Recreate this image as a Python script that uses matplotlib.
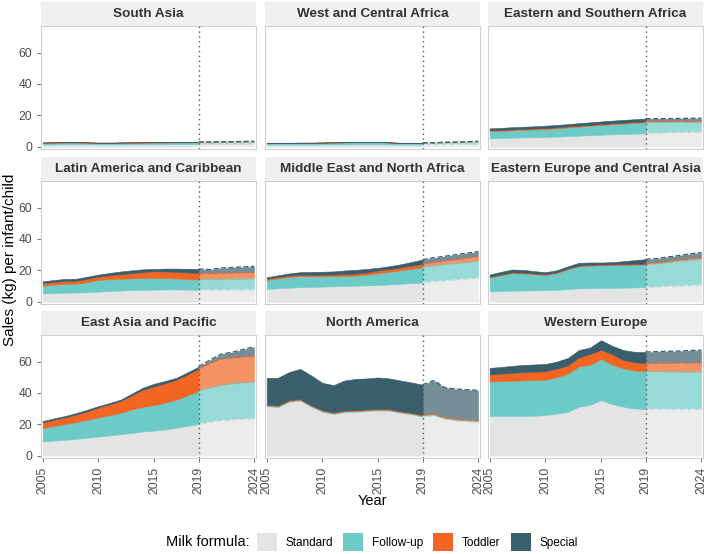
import numpy as np
import matplotlib
matplotlib.use("Agg")
import matplotlib.pyplot as plt
from matplotlib.patches import Patch

plt.rcParams['font.family'] = ['Liberation Sans', 'DejaVu Sans']

years = list(range(2005, 2025))
projection_start = 2019

regions = ["South Asia", "West and Central Africa", "Eastern and Southern Africa",
           "Latin America and Caribbean", "Middle East and North Africa", "Eastern Europe and Central Asia",
           "East Asia and Pacific", "North America", "Western Europe"]

formula_types = ["Standard", "Follow-up", "Toddler", "Special"]

# sales (kg) per infant/child, one row per region in the order above
standard = [
    [1.4, 1.4, 1.5, 1.5, 1.5, 1.4, 1.4, 1.4, 1.5, 1.5, 1.5, 1.5, 1.6, 1.6, 1.6, 1.6, 1.7, 1.7, 1.7, 1.8],
    [1.3, 1.3, 1.3, 1.3, 1.3, 1.4, 1.4, 1.4, 1.5, 1.5, 1.5, 1.4, 1.3, 1.3, 1.3, 1.3, 1.4, 1.4, 1.5, 1.6],
    [5.3, 5.5, 5.7, 5.9, 6.0, 6.2, 6.4, 6.7, 7.0, 7.3, 7.6, 7.9, 8.1, 8.3, 8.5, 8.6, 8.8, 9.0, 9.1, 9.3],
    [5.3, 5.5, 5.7, 5.8, 6.0, 6.4, 6.8, 7.1, 7.4, 7.6, 7.7, 7.8, 7.8, 7.7, 7.5, 7.4, 7.4, 7.5, 7.5, 7.6],
    [8.1, 8.5, 8.9, 9.2, 9.4, 9.6, 9.8, 10.0, 10.2, 10.4, 10.7, 11.0, 11.4, 11.8, 12.2, 12.8, 13.4, 13.9, 14.5, 15.0],
    [6.6, 6.8, 7.0, 7.1, 7.2, 7.3, 7.5, 8.0, 8.5, 8.6, 8.7, 8.8, 8.9, 9.1, 9.2, 9.4, 9.7, 10.0, 10.2, 10.5],
    [9.1, 9.6, 10.1, 10.7, 11.4, 12.2, 12.9, 13.7, 14.5, 15.4, 16.0, 16.7, 17.9, 19.0, 20.2, 21.3, 22.3, 22.8, 23.2, 23.5],
    [31.6, 31.0, 34.4, 35.2, 31.2, 28.0, 26.6, 27.8, 28.0, 28.5, 28.9, 28.7, 27.4, 26.4, 24.9, 25.5, 23.2, 22.2, 21.7, 21.3],
    [25.3, 25.3, 25.3, 25.3, 25.5, 25.9, 26.8, 28.0, 31.2, 32.4, 35.4, 32.8, 31.2, 30.1, 29.7, 29.6, 29.6, 29.5, 29.5, 29.5],
]
follow_up = [
    [1.0, 1.1, 1.1, 1.1, 1.0, 0.9, 0.9, 1.0, 1.0, 1.0, 1.1, 1.1, 1.1, 1.1, 1.1, 1.0, 1.1, 1.1, 1.2, 1.2],
    [1.0, 1.0, 1.0, 1.1, 1.1, 1.1, 1.2, 1.3, 1.4, 1.4, 1.4, 1.2, 1.0, 1.0, 1.0, 1.0, 1.2, 1.3, 1.5, 1.6],
    [4.5, 4.6, 4.7, 4.8, 5.0, 5.1, 5.3, 5.6, 5.8, 6.0, 6.2, 6.4, 6.6, 6.8, 7.0, 6.8, 6.6, 6.5, 6.3, 6.2],
    [4.9, 5.3, 5.7, 5.7, 6.5, 7.5, 7.5, 7.5, 7.5, 7.5, 7.5, 7.2, 7.0, 6.8, 6.6, 6.6, 6.8, 6.8, 6.9, 7.0],
    [5.8, 6.3, 6.8, 7.0, 6.8, 6.6, 6.4, 6.3, 6.4, 6.8, 7.5, 8.0, 8.6, 9.2, 9.8, 10.0, 10.2, 10.5, 10.6, 10.8],
    [8.8, 10.0, 11.2, 10.9, 10.3, 9.7, 10.7, 12.6, 14.0, 14.4, 14.5, 14.5, 14.5, 14.5, 14.5, 14.8, 15.3, 15.7, 16.1, 16.4],
    [8.4, 9.3, 10.1, 10.7, 11.4, 12.2, 13.0, 13.7, 15.0, 15.8, 16.2, 17.2, 17.9, 19.5, 21.1, 21.9, 22.5, 23.1, 23.3, 23.5],
    [0.5, 0.5, 0.5, 0.5, 0.5, 0.5, 0.5, 0.5, 0.5, 0.5, 0.5, 0.5, 0.5, 0.5, 0.5, 0.5, 0.5, 0.5, 0.5, 0.5],
    [22.1, 22.3, 22.5, 22.7, 22.7, 22.5, 23.2, 24.2, 25.8, 25.6, 26.3, 25.3, 24.6, 24.2, 24.0, 24.0, 23.9, 23.9, 23.8, 23.8],
]
toddler = [
    [0.2, 0.2, 0.2, 0.2, 0.2, 0.2, 0.2, 0.2, 0.2, 0.2, 0.2, 0.2, 0.2, 0.3, 0.3, 0.3, 0.3, 0.3, 0.3, 0.3],
    [0.1, 0.1, 0.1, 0.1, 0.1, 0.1, 0.1, 0.1, 0.1, 0.1, 0.1, 0.1, 0.1, 0.1, 0.1, 0.1, 0.1, 0.1, 0.1, 0.1],
    [0.6, 0.6, 0.6, 0.6, 0.6, 0.6, 0.6, 0.6, 0.6, 0.6, 0.6, 0.6, 0.6, 0.6, 0.6, 0.7, 0.7, 0.7, 0.8, 0.8],
    [1.5, 1.8, 1.8, 1.9, 2.1, 2.1, 2.5, 2.9, 3.3, 3.8, 4.2, 4.3, 4.2, 4.1, 4.1, 3.9, 3.9, 4.0, 4.0, 4.0],
    [0.8, 0.9, 0.9, 1.0, 1.0, 1.0, 1.1, 1.2, 1.3, 1.4, 1.7, 1.8, 1.8, 2.0, 2.1, 2.2, 2.4, 2.5, 2.8, 3.0],
    [0.5, 0.5, 0.5, 0.5, 0.5, 0.5, 0.5, 0.5, 0.5, 0.5, 0.5, 0.5, 0.5, 0.5, 0.6, 0.7, 0.8, 0.9, 1.0, 1.1],
    [3.8, 4.0, 4.2, 4.8, 5.5, 6.3, 6.8, 7.5, 9.0, 10.9, 12.0, 12.3, 12.6, 13.3, 14.1, 15.6, 16.9, 16.4, 16.5, 16.6],
    [0.5, 0.5, 0.5, 0.5, 0.5, 0.5, 0.5, 0.5, 0.5, 0.5, 0.5, 0.5, 0.5, 0.5, 0.5, 0.5, 0.5, 0.5, 0.5, 0.5],
    [4.4, 4.7, 5.0, 5.3, 5.4, 5.5, 5.5, 5.3, 5.7, 6.8, 5.9, 6.7, 5.2, 5.3, 5.2, 5.4, 5.5, 5.7, 5.8, 5.9],
]
special = [
    [0.1, 0.1, 0.1, 0.1, 0.1, 0.1, 0.1, 0.1, 0.1, 0.1, 0.1, 0.1, 0.1, 0.1, 0.1, 0.1, 0.1, 0.1, 0.1, 0.1],
    [0.1, 0.1, 0.1, 0.1, 0.1, 0.1, 0.1, 0.1, 0.1, 0.1, 0.1, 0.1, 0.1, 0.1, 0.1, 0.1, 0.1, 0.1, 0.1, 0.1],
    [1.3, 1.3, 1.4, 1.4, 1.4, 1.5, 1.5, 1.5, 1.6, 1.6, 1.7, 1.7, 1.8, 1.8, 1.8, 1.8, 1.8, 1.8, 1.9, 1.9],
    [1.3, 1.2, 1.3, 1.2, 1.3, 1.3, 1.5, 1.8, 1.8, 1.7, 1.5, 1.8, 2.1, 2.4, 2.7, 2.6, 3.4, 3.5, 3.8, 3.9],
    [0.9, 1.1, 1.4, 1.6, 1.8, 1.9, 2.0, 2.4, 2.4, 2.3, 1.7, 1.8, 2.0, 2.3, 2.8, 3.0, 3.0, 3.1, 3.1, 3.2],
    [1.4, 1.7, 1.8, 1.8, 1.5, 1.3, 1.3, 1.4, 1.8, 1.5, 1.3, 1.4, 1.9, 2.4, 2.8, 2.6, 2.7, 2.9, 3.2, 3.4],
    [0.8, 0.9, 0.9, 1.0, 1.0, 0.9, 0.9, 0.9, 1.1, 1.3, 1.7, 1.5, 1.3, 1.4, 1.4, 2.2, 3.1, 3.7, 4.8, 5.9],
    [17.1, 17.7, 17.9, 19.2, 19.0, 17.5, 17.4, 19.2, 20.0, 19.8, 20.0, 19.6, 19.6, 19.3, 19.4, 21.5, 19.2, 19.3, 19.4, 19.4],
    [4.2, 4.3, 4.5, 4.6, 4.6, 4.6, 4.5, 4.8, 4.7, 4.2, 6.1, 5.3, 6.4, 6.7, 7.2, 7.4, 7.6, 7.7, 8.0, 8.2],
]

x_ticks = [2005, 2010, 2015, 2019, 2024]
y_ticks = [0, 20, 40, 60]

colors = ["#E4E4E4", "#6CCBC6", "#F26522", "#3A5E6C"]

W, H = 709, 554
col_x = [41, 265, 488]
panel_w = 215
row_top = [26, 181, 335]
panel_h = 123
strip_h = 24


def px_axes(fig, x0, y0, w, h):
    """Add axes using pixel coordinates measured from the top left corner."""
    return fig.add_axes([x0 / W, (H - y0 - h) / H, w / W, h / H])


def draw_region(ax, layers):
    """Stack the four formula layers, fading the part after the projection start."""
    x = np.array(years)
    hist = x <= projection_start
    proj = x >= projection_start
    base = np.zeros(len(x))
    for vals, color in zip(layers, colors):
        top = base + np.array(vals)
        ax.fill_between(x[hist], base[hist], top[hist], color=color, lw=0.4, ec=color)
        ax.fill_between(x[proj], base[proj], top[proj], color=color, alpha=0.7, lw=0)
        ax.plot(x[proj], top[proj], color=color, lw=0.9, ls=(0, (4, 2)))
        base = top
    ax.axvline(projection_start, color="#555555", lw=1, ls=(0, (1, 2.5)), zorder=5)


fig = plt.figure(figsize=(W / 100, H / 100), dpi=100)

for i, region in enumerate(regions):
    r, c = divmod(i, 3)
    ax = px_axes(fig, col_x[c], row_top[r], panel_w, panel_h)
    draw_region(ax, [standard[i], follow_up[i], toddler[i], special[i]])
    ax.set_xlim(2004.85, 2024.15)
    ax.set_ylim(-1.5, 77)
    for s in ax.spines.values():
        s.set_color("#CFCFCF")
        s.set_linewidth(0.8)
    ax.set_xticks(x_ticks)
    ax.set_yticks(y_ticks)
    ax.tick_params(colors="#555555", labelcolor="#4D4D4D", labelsize=8.8, length=3, width=0.6)
    if c != 0:
        ax.tick_params(axis="y", left=False, labelleft=False)
    if r == 2:
        ax.set_xticklabels([str(t) for t in x_ticks], rotation=90)
    else:
        ax.tick_params(axis="x", bottom=False, labelbottom=False)

    strip = px_axes(fig, col_x[c], row_top[r] - strip_h, panel_w, strip_h)
    strip.set_facecolor("#F0F0F0")
    strip.set_xticks([])
    strip.set_yticks([])
    for s in strip.spines.values():
        s.set_visible(False)
    strip.text(0.5, 0.5, region, ha="center", va="center", fontsize=9.7, fontweight="bold",
               color="#333333", transform=strip.transAxes)

fig.text(10 / W, 1 - 260 / H, "Sales (kg) per infant/child", rotation=90, ha="center", va="center",
         fontsize=11)
fig.text(372 / W, 1 - 501 / H, "Year", ha="center", va="center", fontsize=10.5)
fig.text(166 / W, 1 - 542 / H, "Milk formula:", ha="left", va="center", fontsize=10.5)

handles = [Patch(facecolor=col, edgecolor="none") for col in colors]
fig.legend(handles, formula_types, loc="center left", bbox_to_anchor=(252 / W, 1 - 542 / H), ncol=4,
           frameon=False, fontsize=8.5, handlelength=1.7, handleheight=1.9, handletextpad=0.7,
           columnspacing=0.9, borderaxespad=0)

fig.savefig("out.png", dpi=100)
